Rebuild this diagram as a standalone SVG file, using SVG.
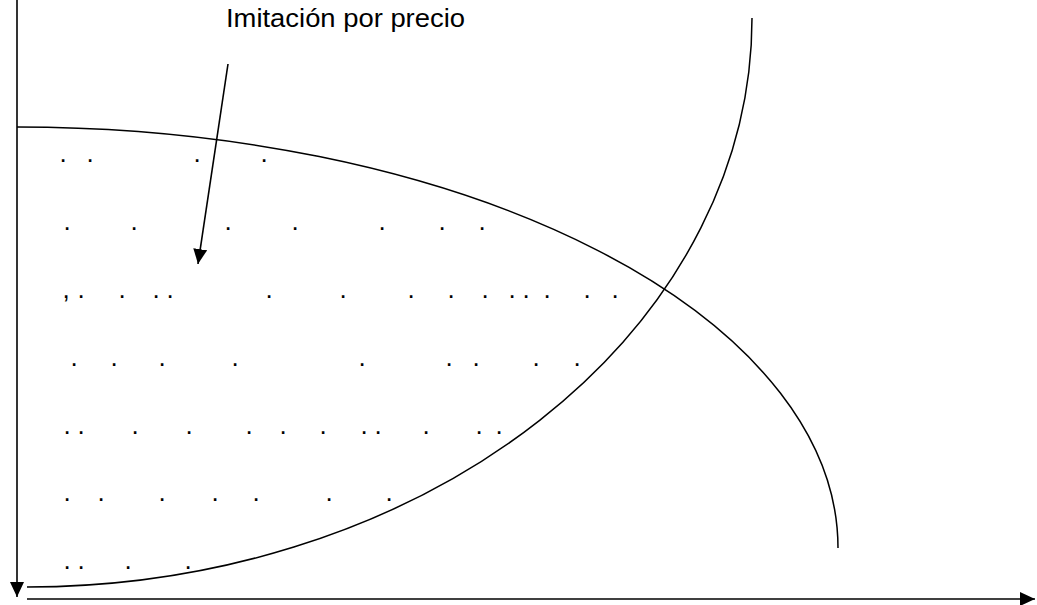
<svg xmlns="http://www.w3.org/2000/svg" width="1037" height="605" viewBox="0 0 1037 605">
  <defs>
    <marker id="arrow" viewBox="0 0 15 14" refX="15" refY="7" markerWidth="15" markerHeight="14" markerUnits="userSpaceOnUse" orient="auto">
      <path d="M0,0 L15,7 L0,14 z" fill="#000"/>
    </marker>
    <style>
      .ln { fill: none; stroke: #000; stroke-width: 1.6; }
      .cv { fill: none; stroke: #000; stroke-width: 1.5; }
      .dots { font-family: "Liberation Sans", Arial, sans-serif; font-size: 26px; fill: #000; text-anchor: middle; }
      .lbl { font-family: "Liberation Sans", Arial, sans-serif; font-size: 26px; fill: #000; }
    </style>
  </defs>
  <rect width="1037" height="605" fill="#fff"/>

  <g id="connectors">
    <line class="ln" x1="17" y1="0" x2="17" y2="597" marker-end="url(#arrow)"/>
    <line class="ln" x1="27" y1="599" x2="1035" y2="599" marker-end="url(#arrow)"/>
    <line class="ln" x1="228" y1="64" x2="198" y2="264" marker-end="url(#arrow)"/>
  </g>

  <g id="curve-descending">
    <path class="cv" d="M17,127 A821,421 0 0 1 838,548"/>
  </g>
  <g id="curve-ascending">
    <path class="cv" d="M27,587 A725,569 0 0 0 752,18"/>
  </g>

  <g id="label">
    <text class="lbl" x="226" y="27" textLength="239" lengthAdjust="spacingAndGlyphs">Imitación por precio</text>
  </g>

  <g id="dots">
    <text class="dots" x="63 90 197 264" y="162.3">....</text>
    <text class="dots" x="67 134 228 295 382 442 482" y="230.3">.......</text>
    <text class="dots" x="66 81 122 156 170 269 343 411 451 485 512 526 547 587 615" y="298.3">,..............</text>
    <text class="dots" x="74 114 162 235 362 449 476 536 577" y="366.3">.........</text>
    <text class="dots" x="67 81 135 189 249 283 323 364 378 426 479 499" y="434.3">............</text>
    <text class="dots" x="67 101 162 215 256 329 389" y="501.3">.......</text>
    <text class="dots" x="67 81 128 188" y="569.3">....</text>
  </g>
</svg>
